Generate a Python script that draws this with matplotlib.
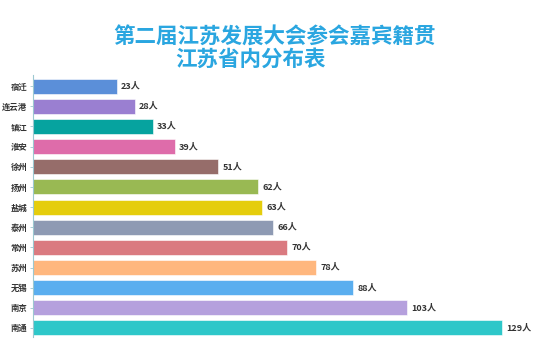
import matplotlib
matplotlib.use("Agg")
import matplotlib.pyplot as plt

plt.rcParams['font.family'] = ['Noto Sans CJK SC', 'DejaVu Sans']

cities = ['宿迁', '连云港', '镇江', '淮安', '徐州', '扬州', '盐城',
          '泰州', '常州', '苏州', '无锡', '南京', '南通']
counts = [23, 28, 33, 39, 51, 62, 63, 66, 70, 78, 88, 103, 129]
colors = ['#5B8FD9', '#9A7FD1', '#06A39F', '#DE6CAA', '#966D6A', '#99B953',
          '#E5CD0C', '#8E9AB3', '#DA7A80', '#FFB77E', '#5AAEEF', '#B5A0DD',
          '#2EC7C9']

fig = plt.figure(figsize=(5.5, 3.52), dpi=100)
ax = fig.add_axes([0.06, 0.0426, 0.925, 0.744])

ypos = range(len(cities))
ax.barh(ypos, counts, height=0.75, color=colors, edgecolor='white', linewidth=0.4)
for y, v in zip(ypos, counts):
    ax.text(v + 1.2, y, f'{v}人', va='center', ha='left', fontsize=6.5,
            fontweight='bold', color='#333333')

ax.set_yticks(list(ypos))
ax.set_yticklabels(cities, fontsize=6, fontweight='bold', color='#333333')
ax.set_ylim(12.45, -0.55)
ax.set_xlim(0, 140)
ax.set_xticks([])
for s in ['top', 'right', 'bottom']:
    ax.spines[s].set_visible(False)
ax.spines['left'].set_color('#9CC8D0')
ax.spines['left'].set_linewidth(0.8)
ax.tick_params(axis='y', length=2, width=0.6, color='#9CC8D0', pad=2)

fig.text(0.5, 0.895, '第二届江苏发展大会参会嘉宾籍贯', ha='center', va='center',
         fontsize=15.5, fontweight='bold', color='#2AA6E0')
fig.text(0.455, 0.833, '江苏省内分布表', ha='center', va='center',
         fontsize=15.5, fontweight='bold', color='#2AA6E0')

fig.savefig('out.png', dpi=100)
